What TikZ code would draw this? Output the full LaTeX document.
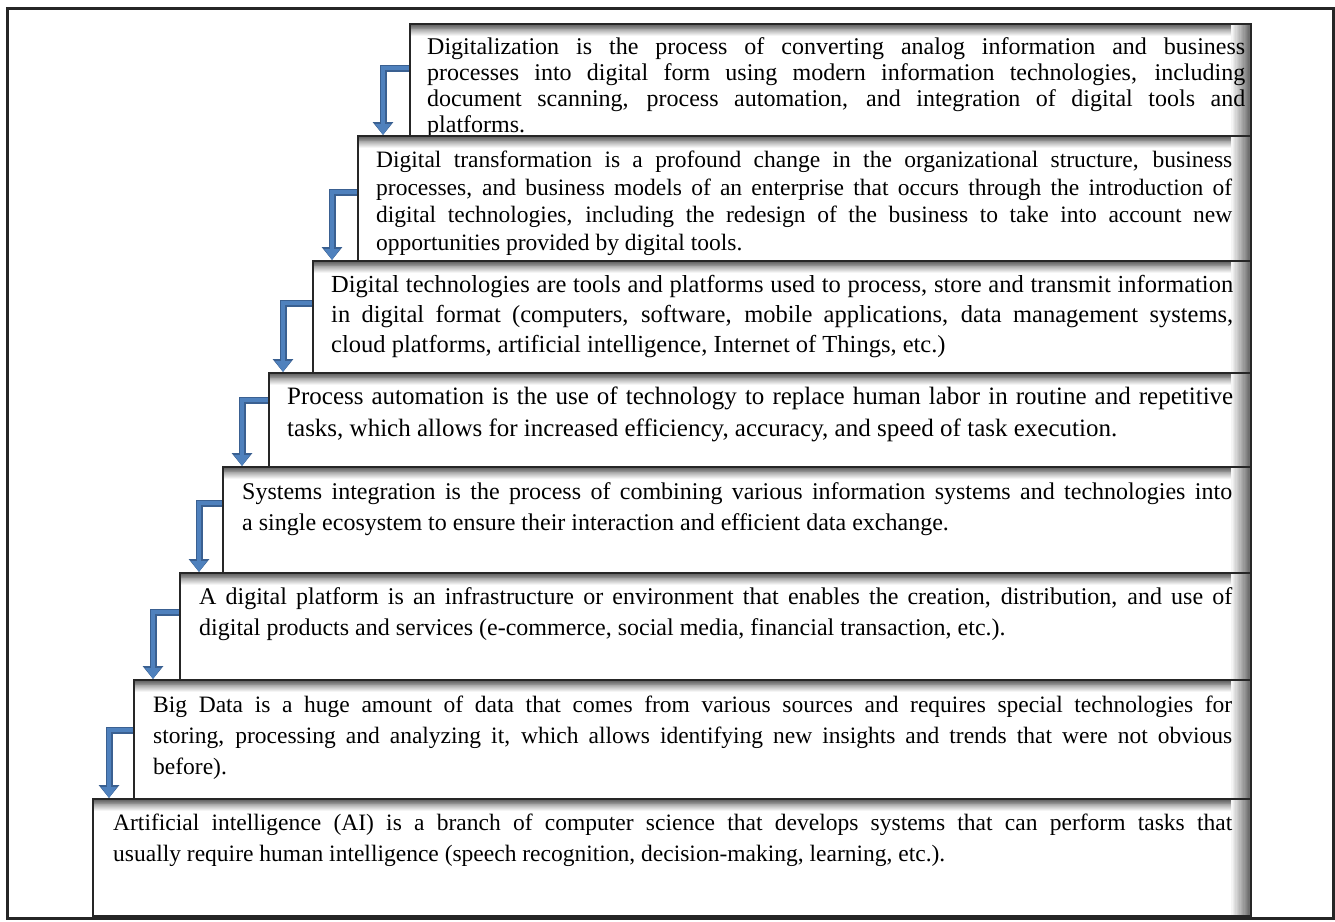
\documentclass[tikz,border=0pt]{standalone}
\usepackage{fontspec}
\setmainfont{Liberation Serif}
\usetikzlibrary{arrows.meta}
\definecolor{arrowfill}{RGB}{79,129,189}
\definecolor{arrowedge}{RGB}{58,96,145}
\tikzset{
  stepbox/.style={draw=black!85, line width=2pt, fill=white, anchor=north west, inner sep=0pt,
    path picture={
      % grey fade under the top edge
      \foreach \k [evaluate=\k as \g using int(64-5*\k)] in {0,...,12}
        \fill[black!\g] ([yshift=-\k*0.9pt]path picture bounding box.north west) rectangle ([yshift=-\k*0.9pt-1pt]path picture bounding box.north east);
      % grey fade along the right edge
      \foreach \k [evaluate=\k as \g using int(60-4*\k)] in {0,...,14}
        \fill[black!\g] ([xshift=-\k*1.3pt]path picture bounding box.north east) rectangle ([xshift=-\k*1.3pt-1.4pt]path picture bounding box.south east);
    }},
  steptext/.style={anchor=north west, inner sep=0pt, align=justify, font=\fontsize{23.5}{31}\selectfont},
  flow/.style={draw=arrowfill, line width=4pt, -{Triangle[length=11pt,width=15pt]},
    preaction={draw=arrowedge, line width=7pt, -{Triangle[length=13pt,width=20pt]}}}
}
\begin{document}
\begin{tikzpicture}[x=1pt,y=-1pt]
    \useasboundingbox (0,0) rectangle (1335,921);
    \hyphenpenalty=10000 \exhyphenpenalty=10000

    % outer frame
    \draw[line width=3pt, black!85] (7,8) rectangle (1333,918);

    % steps, from top to bottom
    \node[stepbox, minimum width=841pt, minimum height=112pt] (b1) at (409,23) {};
    \node[steptext, text width=818pt, font=\fontsize{24}{26}\selectfont] (t1) at ([xshift=18pt, yshift=-14pt]b1.north west)
      {Digitalization is the process of converting analog information and business\linebreak
       processes into digital form using modern information technologies, including\linebreak
       document scanning, process automation, and integration of digital tools and\linebreak
       platforms.};

    \node[stepbox, minimum width=893pt, minimum height=125pt] (b2) at (357,135) {};
    \node[steptext, text width=856pt, font=\fontsize{23.5}{27.5}\selectfont] (t2) at ([xshift=19pt, yshift=-16pt]b2.north west)
      {Digital transformation is a profound change in the organizational structure, business\linebreak
       processes, and business models of an enterprise that occurs through the introduction of\linebreak
       digital technologies, including the redesign of the business to take into account new\linebreak
       opportunities provided by digital tools.};

    \node[stepbox, minimum width=938pt, minimum height=112pt] (b3) at (312,260) {};
    \node[steptext, text width=902pt, font=\fontsize{24.5}{30}\selectfont] (t3) at ([xshift=19pt, yshift=-15pt]b3.north west)
      {Digital technologies are tools and platforms used to process, store and transmit information\linebreak
       in digital format (computers, software, mobile applications, data management systems,\linebreak
       cloud platforms, artificial intelligence, Internet of Things, etc.)};

    \node[stepbox, minimum width=982pt, minimum height=94pt] (b4) at (268,372) {};
    \node[steptext, text width=946pt, font=\fontsize{25}{32}\selectfont] (t4) at ([xshift=19pt, yshift=-15pt]b4.north west)
      {Process automation is the use of technology to replace human labor in routine and repetitive\linebreak
       tasks, which allows for increased efficiency, accuracy, and speed of task execution.};

    \node[stepbox, minimum width=1028pt, minimum height=106pt] (b5) at (222,466) {};
    \node[steptext, text width=990pt, font=\fontsize{24}{31}\selectfont] (t5) at ([xshift=20pt, yshift=-16pt]b5.north west)
      {Systems integration is the process of combining various information systems and technologies into\linebreak
       a single ecosystem to ensure their interaction and efficient data exchange.};

    \node[stepbox, minimum width=1071pt, minimum height=107pt] (b6) at (179,572) {};
    \node[steptext, text width=1033pt, font=\fontsize{24}{31}\selectfont] (t6) at ([xshift=20pt, yshift=-15pt]b6.north west)
      {A digital platform is an infrastructure or environment that enables the creation, distribution, and use of\linebreak
       digital products and services (e-commerce, social media, financial transaction, etc.).};

    \node[stepbox, minimum width=1117pt, minimum height=119pt] (b7) at (133,679) {};
    \node[steptext, text width=1079pt] (t7) at ([xshift=20pt, yshift=-17pt]b7.north west)
      {Big Data is a huge amount of data that comes from various sources and requires special technologies for\linebreak
       storing, processing and analyzing it, which allows identifying new insights and trends that were not obvious\linebreak
       before).};

    \node[stepbox, minimum width=1158pt, minimum height=117pt] (b8) at (92,798) {};
    \node[steptext, text width=1119pt] (t8) at ([xshift=21pt, yshift=-16pt]b8.north west)
      {Artificial intelligence (AI) is a branch of computer science that develops systems that can perform tasks that\linebreak
       usually require human intelligence (speech recognition, decision-making, learning, etc.).};

    % arrows down the steps
    \draw[flow] ([yshift=-45pt]b1.north west) -| ([xshift=26pt]b2.north west);
    \draw[flow] ([yshift=-57pt]b2.north west) -| ([xshift=20pt]b3.north west);
    \draw[flow] ([yshift=-43pt]b3.north west) -| ([xshift=15pt]b4.north west);
    \draw[flow] ([yshift=-28pt]b4.north west) -| ([xshift=20pt]b5.north west);
    \draw[flow] ([yshift=-37pt]b5.north west) -| ([xshift=20pt]b6.north west);
    \draw[flow] ([yshift=-40pt]b6.north west) -| ([xshift=20pt]b7.north west);
    \draw[flow] ([yshift=-51pt]b7.north west) -| ([xshift=17pt]b8.north west);

  \end{tikzpicture}
\end{document}
